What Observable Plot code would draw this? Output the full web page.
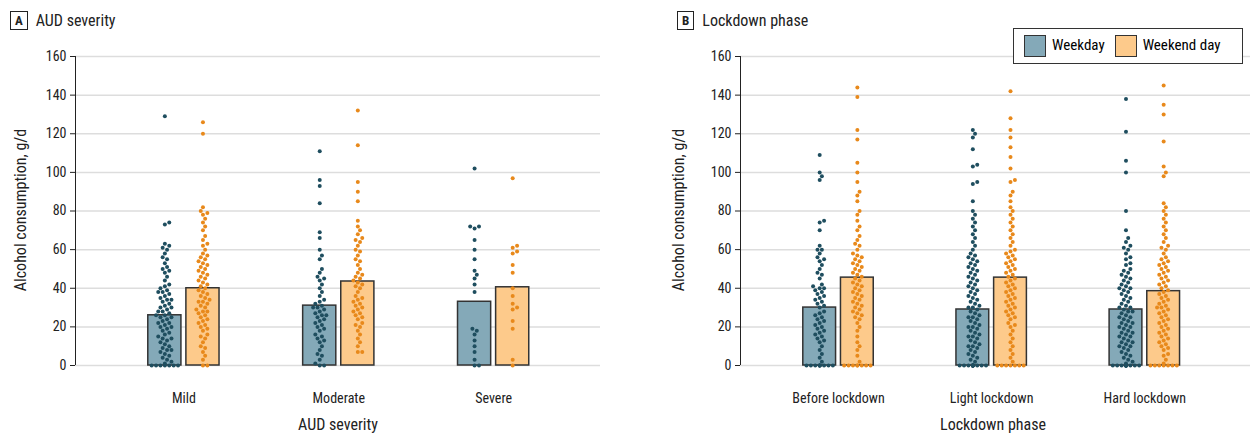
<!DOCTYPE html>
<html><head><meta charset="utf-8">
<script src="https://cdn.jsdelivr.net/npm/d3@7"></script>
<script src="https://cdn.jsdelivr.net/npm/@observablehq/plot@0.6"></script>
<style>
body{margin:0;font-family:"Liberation Sans Narrow","Roboto Condensed","Liberation Sans",sans-serif;background:#fff}
#wrap{position:relative;width:1254px;height:434px}
.panel{position:absolute;top:0}
.head{height:40px;font-size:16px;color:#222;display:flex;align-items:center;gap:8px;padding-left:10px}
.lt{border:1px solid #222;font-weight:bold;font-size:13px;padding:0 4px;line-height:17px}
.xl{position:absolute;top:415px;font-size:16px;color:#222;transform:translateX(-50%)}
.yl{position:absolute;top:210px;font-size:16px;color:#222;transform:translate(-50%,-50%) rotate(-90deg);white-space:nowrap}
#legend{position:absolute;left:1013px;top:28px;width:230px;height:36px;border:1px solid #333;background:#fff;display:flex;align-items:center;gap:10px;padding-left:10px;box-sizing:border-box;font-size:15px}
.sw{display:inline-block;width:20px;height:20px;border:1px solid #333;vertical-align:middle;margin-right:6px}
</style></head><body>
<div id="wrap">
<div class="panel" style="left:0"><div class="head"><span class="lt">A</span>AUD severity</div><div id="a"></div></div>
<div class="panel" style="left:665px"><div class="head" style="padding-left:12px"><span class="lt">B</span>Lockdown phase</div><div id="b"></div></div>
<div class="yl" style="left:20px">Alcohol consumption, g/d</div>
<div class="yl" style="left:678px">Alcohol consumption, g/d</div>
<div class="xl" style="left:338px">AUD severity</div>
<div class="xl" style="left:993px">Lockdown phase</div>
<div id="legend"><span><span class="sw" style="background:#84a9b8"></span>Weekday</span><span><span class="sw" style="background:#fdca8b"></span>Weekend day</span></div>
</div>
<script>
const sevCats = ["Mild","Moderate","Severe"];
const sevMeans = {weekday:[26,31,33], weekend:[40,43.5,40.5]};
const sevDots = {
 weekday:[
  [0,0,0,0,0,0,0,1,2,3,4,5,6,7,8,8,9,10,11,12,13,14,14,15,16,17,18,19,20,20,21,22,22,23,24,25,25,26,26,27,28,28,29,30,30,31,32,33,34,34,35,36,37,38,38,39,40,41,42,44,46,48,49,50,51,53,55,56,58,60,61,62,63,73,74,129],
  [0,0,1,3,5,6,8,10,12,13,14,15,16,18,19,20,21,22,23,24,25,26,26,27,28,29,30,30,31,32,33,34,36,38,40,42,44,45,46,48,50,55,57,60,66,69,84,93,96,111],
  [0,0,3,7,10,13,16,18,19,38,42,45,47,49,55,60,65,71,72,72,102]],
 weekend:[
  [0,0,3,5,7,9,10,12,14,15,16,18,19,20,21,22,23,24,25,26,27,28,28,29,30,31,32,33,33,34,35,36,37,38,39,40,41,42,43,44,45,46,47,48,49,50,51,52,53,54,55,56,57,58,60,62,63,65,67,70,72,74,76,78,79,80,82,120,126],
  [7,7,10,12,14,16,18,20,21,22,24,25,26,27,28,29,30,31,32,33,34,35,36,38,40,41,42,43,44,45,46,47,48,50,52,54,55,57,59,60,62,64,65,66,68,70,72,75,85,90,95,114,132],
  [0,3,19,23,29,30,32,36,40,48,52,58,59,61,62,97]]
};
const phaseCats = ["Before lockdown","Light lockdown","Hard lockdown"];
const phaseMeans = {weekday:[30,29,29], weekend:[45.5,45.5,38.5]};
const phaseDots = {
 weekday:[
  [0,0,0,0,0,0,0,0,0,0,2,4,6,8,10,12,13,14,15,16,17,18,19,20,21,22,23,24,25,26,27,28,30,31,32,33,34,35,36,37,38,39,40,40,41,42,45,47,48,50,52,54,55,56,58,60,60,62,70,74,75,96,98,100,109],
  [0,0,0,0,0,0,0,0,0,0,0,0,0,0,2,3,4,5,6,7,8,9,10,10,11,12,13,14,15,15,16,17,18,19,20,20,21,22,23,24,25,25,26,27,28,29,30,30,31,32,33,34,35,36,37,38,39,40,41,42,43,44,45,46,47,48,49,50,51,52,53,54,55,56,57,58,60,62,64,66,68,70,72,74,76,78,80,85,94,95,103,104,112,118,120,122],
  [0,0,0,0,0,0,0,0,0,0,0,0,0,0,1,2,3,4,5,6,7,8,9,10,10,11,12,12,13,14,15,15,16,17,17,18,19,20,20,21,22,22,23,24,25,25,26,27,28,28,29,30,30,31,32,33,34,35,36,37,38,39,40,40,41,42,43,44,45,46,47,48,49,50,52,53,55,56,58,60,61,62,64,66,70,80,100,106,121,138]],
 weekend:[
  [0,0,0,0,0,0,0,0,2,5,8,10,12,15,18,20,22,24,25,26,27,28,29,30,31,32,33,34,35,36,37,38,39,40,41,42,43,44,45,46,47,48,49,50,51,52,53,54,55,56,57,58,60,62,63,65,67,70,72,75,78,80,85,88,90,95,100,105,117,122,139,144],
  [0,0,0,0,0,0,0,2,4,6,8,10,12,14,16,18,20,21,22,24,25,26,27,28,29,30,31,32,33,34,35,36,37,38,39,40,41,42,43,44,45,46,47,48,49,50,51,52,53,54,55,56,57,58,59,60,62,64,66,68,70,72,74,76,78,80,82,85,88,90,95,96,102,108,113,118,122,128,142],
  [0,0,0,0,0,0,0,1,3,5,6,8,9,10,11,12,13,14,15,16,17,18,19,20,21,22,23,24,25,26,27,28,29,30,30,31,32,33,34,35,36,37,38,39,40,41,42,43,44,45,46,47,48,49,50,51,52,53,54,55,56,58,60,61,62,64,66,68,70,72,74,76,78,80,82,84,98,100,103,116,130,135,145]]
};
const colors = {weekday:{bar:"#84a9b8",dot:"#1f4e5f"}, weekend:{bar:"#fdca8b",dot:"#e8891b"}};

// simple beeswarm: offsets in pixels, clamped to the bar width
function swarm(vals, pxPerY, r, maxOff) {
  const placed = [], out = [];
  const d = 2 * r + 0.4;
  vals.slice().sort((a,b)=>a-b).forEach(v => {
    const py = v * pxPerY;
    let off = 0;
    for (let k = 0; k * d / 2 <= maxOff; k++) {
      const cands = k === 0 ? [0] : [k*d/2, -k*d/2];
      const ok = cands.find(c => placed.every(p => (p.x-c)**2 + (p.y-py)**2 >= d*d));
      if (ok !== undefined) { off = ok; break; }
    }
    placed.push({x: off, y: py});
    out.push({v, off});
  });
  return out;
}

function panel(el, cats, means, dots, domain, plotW, width) {
  const marginLeft = 75, marginRight = width - marginLeft - plotW;
  const pxPerX = plotW / (domain[1]-domain[0]);
  const pxPerY = 309 / 160;
  const bars = [], pts = [];
  ["weekday","weekend"].forEach((t,ti) => {
    const shift = ti === 0 ? -0.123 : 0.123;
    cats.forEach((c,i) => {
      bars.push({type:t, x1:i+shift-0.107, x2:i+shift+0.107, y:means[t][i]});
      swarm(dots[t][i], pxPerY, 2, 15).forEach(p => pts.push({type:t, x:i+shift+p.off/pxPerX, y:p.v}));
    });
  });
  const chart = Plot.plot({
    width, height:394, marginLeft, marginRight, marginTop:16, marginBottom:69,
    style:{fontSize:"14px", fontFamily:"inherit", color:"#222"},
    x:{domain, ticks:[0,1,2], tickFormat:i=>cats[i], tickSize:0, tickPadding:28, label:null},
    y:{domain:[0,160], ticks:d3.range(0,161,20), grid:false, label:null, tickSize:5},
    marks:[
      Plot.ruleY(d3.range(0,161,20), {stroke:"#ddd", strokeWidth:1.5}),
      Plot.rectY(bars, {x1:"x1", x2:"x2", y:"y", fill:d=>colors[d.type].bar, stroke:"#333", strokeWidth:1.5}),
      Plot.dot(pts, {x:"x", y:"y", r:2, fill:d=>colors[d.type].dot, stroke:null}),
      Plot.ruleX([domain[0]], {stroke:"#222"})
    ]
  });
  d3.select(el).append(() => chart);
}
panel("#a", sevCats, sevMeans, sevDots, [-0.7, 2.69], 525, 627);
panel("#b", phaseCats, phaseMeans, phaseDots, [-0.64, 2.69], 510, 585);
</script>
</body></html>
